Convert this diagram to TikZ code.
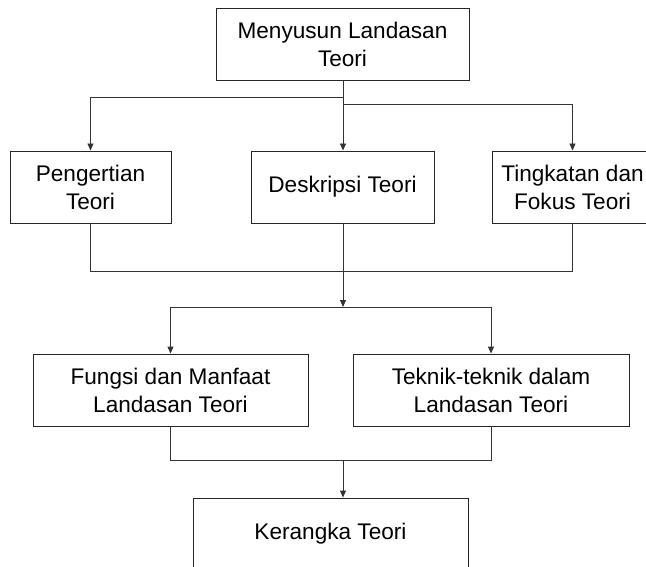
\documentclass[tikz,border=0pt]{standalone}
\usepackage{fontspec}
\setmainfont{Liberation Sans}
\usetikzlibrary{arrows.meta}
\begin{document}
\begin{tikzpicture}[x={(1pt,0)}, y={(0,-1pt)},
  box/.style={draw=black!85, line width=0.9pt, fill=white, align=center,
    minimum height=72pt, inner sep=0pt,
    font=\fontsize{22.6pt}{28pt}\selectfont},
  link/.style={draw=black!80, line width=0.9pt},
  arr/.style={link, -{Triangle[length=7pt,width=6pt]}}]
\useasboundingbox (0,0) rectangle (646,567);
\clip (0,0) rectangle (646,567);

% boxes
\node[box, minimum width=253pt] (top)  at (342.5,44) {Menyusun Landasan\\Teori};
\node[box, minimum width=161pt] (peng) at (90.5,187) {Pengertian\\Teori};
\node[box, minimum width=183pt] (desk) at (342.5,187) {Deskripsi Teori};
\node[box, minimum width=161pt] (ting) at (572.5,187) {Tingkatan dan\\Fokus Teori};
\node[box, minimum width=275pt] (fung) at (170.5,390) {Fungsi dan Manfaat\\Landasan Teori};
\node[box, minimum width=276pt] (tekn) at (491,390) {Teknik-teknik dalam\\Landasan Teori};
\node[box, minimum width=275pt] (kera) at (330.5,534) {Kerangka Teori};

% junction points
\coordinate (jl) at (343,97);
\coordinate (jr) at (343,104);
\coordinate (jm) at (343,307);
\coordinate (jb) at (343,460);

% first level
\draw[arr] (top.south -| jl) -- (desk.north -| jl);
\draw[arr] (jl) -| (peng.north);
\draw[arr] (jr) -| (ting.north);

% merge of the second row
\draw[link] (peng.south) -- ++(0,48) -| (ting.south);
\draw[arr] (desk.south -| jm) -- (jm);

% second split
\draw[link] (jm -| fung.north) -- (jm -| tekn.north);
\draw[arr] (jm -| fung.north) -- (fung.north);
\draw[arr] (jm -| tekn.north) -- (tekn.north);

% merge towards the last box
\draw[link] (fung.south) -- (jb -| fung.south) -- (jb -| tekn.south) -- (tekn.south);
\draw[arr] (jb) -- (kera.north -| jb);
\end{tikzpicture}
\end{document}
